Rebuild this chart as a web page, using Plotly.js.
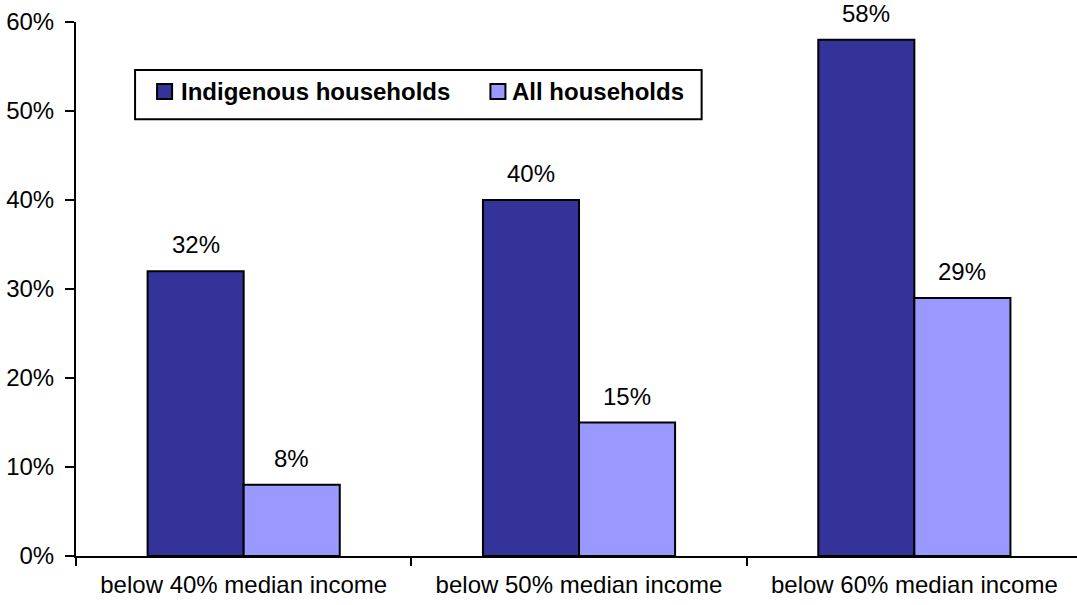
<!DOCTYPE html>
<html>
<head>
<meta charset="utf-8">
<script src="https://cdn.plot.ly/plotly-3.0.1.min.js"></script>
<style>html,body{margin:0;padding:0;background:#fff;overflow:hidden}#chart{width:1077px;height:605px}</style>
</head>
<body>
<div id="chart"></div>
<script>
const categories = ["below 40% median income", "below 50% median income", "below 60% median income"];
const indigenous = [32, 40, 58];
const allHouseholds = [8, 15, 29];
const seriesNames = ["Indigenous households", "All households"];
const seriesColors = ["#333399", "#9999FF"];
const yTicks = [0, 10, 20, 30, 40, 50, 60];

const FAM = "Liberation Sans, Arial, sans-serif";
const font = {family: FAM, size: 24, color: "#000"};

const traces = [indigenous, allHouseholds].map((arr, s) => ({
  type: "bar", name: seriesNames[s], x: categories, y: arr,
  marker: {color: seriesColors[s], line: {color: "#000", width: 2}}, hoverinfo: "skip", showlegend: false
}));

const annotations = [];
[indigenous, allHouseholds].forEach((arr, s) => {
  arr.forEach((v, i) => {
    annotations.push({x: categories[i], y: v, xref: "x", yref: "y", text: v + "%",
      showarrow: false, yanchor: "bottom", yshift: 11, xshift: s === 0 ? -48 : 48, font: font});
  });
});

// custom legend (box, swatches, labels) in paper coordinates
const shapes = [
  {type: "rect", xref: "paper", yref: "paper", x0: 0.059, x1: 0.625, y0: 0.818, y1: 0.910,
   line: {color: "#000", width: 2}, fillcolor: "#fff", layer: "above"}
];
const legendX = [[0.081, 0.096, 0.103], [0.414, 0.429, 0.434]];
seriesNames.forEach((n, s) => {
  shapes.push({type: "rect", xref: "paper", yref: "paper", x0: legendX[s][0], x1: legendX[s][1],
    y0: 0.856, y1: 0.884, line: {color: "#000", width: 2}, fillcolor: seriesColors[s], layer: "above"});
  annotations.push({xref: "paper", yref: "paper", x: legendX[s][2], y: 0.870, xanchor: "left", yanchor: "middle",
    text: "<b>" + n + "</b>", showarrow: false, font: font});
});

const layout = {
  width: 1077, height: 605,
  margin: {l: 76, r: 0, t: 22, b: 49},
  paper_bgcolor: "#fff", plot_bgcolor: "#fff",
  font: font,
  barmode: "group", bargap: 0.427, bargroupgap: 0,
  showlegend: false,
  xaxis: {type: "category", range: [-0.5, 2.485], showline: true, linecolor: "#000", linewidth: 2,
    ticks: "outside", tickson: "boundaries", ticklen: 8, tickwidth: 2, tickcolor: "#000",
    showgrid: false, zeroline: false, tickfont: font, ticklabelstandoff: 6},
  yaxis: {range: [0, 60], tickvals: yTicks, ticktext: yTicks.map(v => v + "%"),
    showline: true, linecolor: "#000", linewidth: 2, ticks: "outside", ticklen: 9, tickwidth: 2,
    tickcolor: "#000", showgrid: false, zeroline: false, tickfont: font, ticklabelstandoff: 6},
  shapes: shapes,
  annotations: annotations
};

Plotly.newPlot("chart", traces, layout, {displayModeBar: false, staticPlot: true});
</script>
</body>
</html>
